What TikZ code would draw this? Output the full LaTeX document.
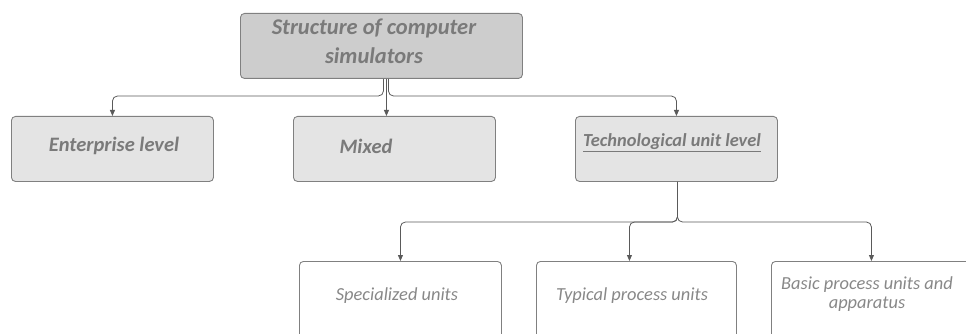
\documentclass[tikz,border=0pt]{standalone}
\usepackage{fontspec}
\setmainfont{Carlito}
\usetikzlibrary{arrows.meta}
\definecolor{topfill}{HTML}{CDCDCD}
\definecolor{midfill}{HTML}{E4E4E4}
\definecolor{boxline}{HTML}{808080}
\definecolor{txtgray}{HTML}{7A7A7A}
\definecolor{lightgray}{HTML}{888888}
\definecolor{connc}{HTML}{5A5A5A}
\tikzset{
  box/.style={draw=boxline, line width=0.9pt, rounded corners=4pt, inner sep=0pt, anchor=north west},
  topbox/.style={box, fill=topfill},
  midbox/.style={box, fill=midfill, minimum width=202pt, minimum height=65pt},
  lowbox/.style={box, fill=white, minimum width=202pt, minimum height=110pt},
  toptext/.style={font=\fontsize{22.5}{29}\selectfont\bfseries\itshape, text=txtgray, align=center, inner sep=0pt},
  midtext/.style={font=\fontsize{20.5}{22}\selectfont\bfseries\itshape, text=txtgray, inner sep=0pt},
  lowtext/.style={font=\fontsize{18.4}{19}\selectfont\itshape, text=lightgray, align=center, inner sep=0pt},
  conn/.style={draw=connc, line width=0.8pt, rounded corners=5pt, -{Triangle[length=6pt,width=5pt]}}
}
\begin{document}
\begin{tikzpicture}[x=1pt,y=-1pt]
\useasboundingbox (0,0) rectangle (966,334);
\clip (0,0) rectangle (966,334);
% boxes
\node[topbox, minimum width=282pt, minimum height=65pt] (top) at (240,13) {};
\node[midbox] (ent) at (11,116) {};
\node[midbox] (mix) at (293,116) {};
\node[midbox] (tech) at (575,116) {};
\node[lowbox] (spec) at (299,261) {};
\node[lowbox, minimum width=200pt] (typ) at (536,261) {};
\node[lowbox, minimum width=200pt] (basic) at (771,261) {};
% texts
\node[toptext] (toplbl) at (374,41) {Structure of computer\\simulators};
\node[midtext] (entlbl) at (114,146) {Enterprise level};
\node[midtext] (mixlbl) at (366,146) {Mixed};
\node[midtext, font=\fontsize{18.4}{20}\selectfont\bfseries\itshape] (techlbl) at (672,143) {\underline{Technological unit level}};
\node[lowtext] (speclbl) at (397,296) {Specialized units};
\node[lowtext] (typlbl) at (632,296) {Typical process units};
\node[lowtext] (basiclbl) at (867,294) {Basic process units and\\apparatus};
% connectors
\draw[conn] ([xshift=2pt]top.south) -- ([xshift=2pt]top.south |- 0,96) -| (ent.north);
\draw[conn] ([xshift=7pt]top.south) -- ([xshift=7pt]top.south |- 0,96) -| (tech.north);
\draw[conn] ([xshift=5pt]top.south) -- ([xshift=5pt]top.south |- mix.north);
\draw[conn] ([xshift=1pt]tech.south) -- ([xshift=1pt]tech.south |- 0,222) -| (spec.north);
\draw[conn] ([xshift=1pt]tech.south) -- ([xshift=1pt]tech.south |- 0,222) -| ([xshift=-7pt]typ.north);
\draw[conn] ([xshift=1pt]tech.south) -- ([xshift=1pt]tech.south |- 0,222) -| (basic.north);
\end{tikzpicture}
\end{document}
